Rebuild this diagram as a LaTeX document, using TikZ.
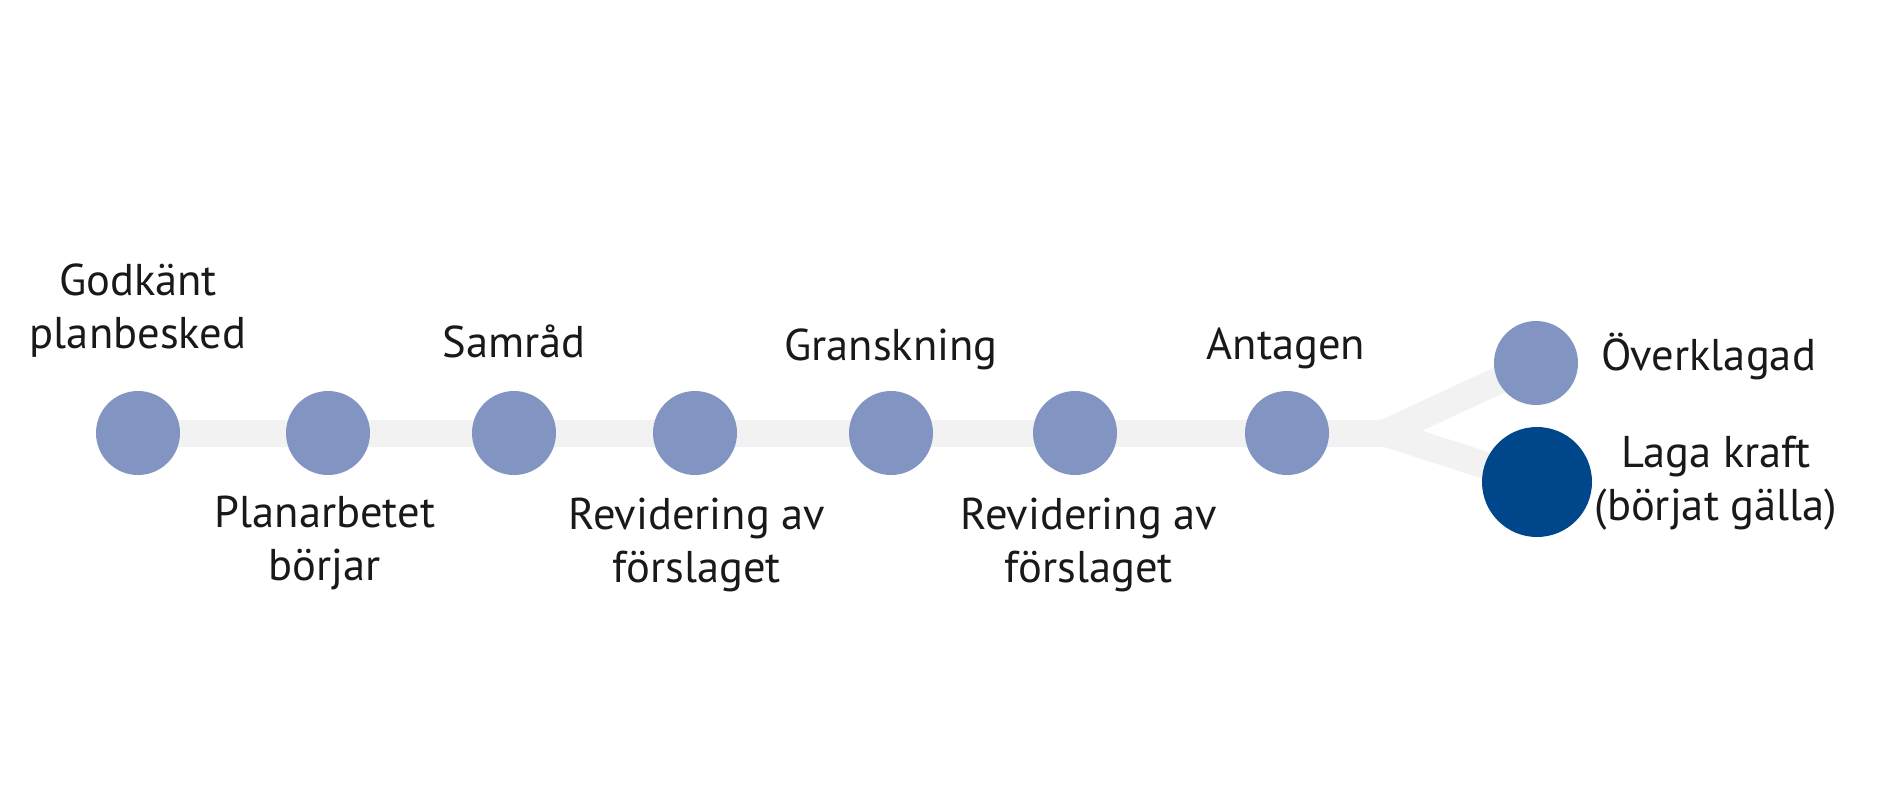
\documentclass[tikz,border=0pt]{standalone}
\usepackage{fontspec}
\setmainfont{PT Sans}
\definecolor{dotblue}{RGB}{130,149,194}
\definecolor{darkblue}{RGB}{0,70,139}
\definecolor{track}{RGB}{242,242,242}
\begin{document}
\begin{tikzpicture}[x=1pt,y=-1pt,
  dot/.style={circle,fill=dotblue,minimum size=84pt,inner sep=0pt},
  bigdot/.style={circle,fill=darkblue,minimum size=110pt,inner sep=0pt},
  lbl/.style={font=\fontsize{44.5}{53}\selectfont,text=black!90,inner sep=0pt,align=center},
  trackline/.style={draw=track,line width=27pt}]
\useasboundingbox (0,0) rectangle (1880,806);
\fill[white] (0,0) rectangle (1880,806);
% positions
\coordinate (c1) at (138,433);
\coordinate (c2) at (328,433);
\coordinate (c3) at (514,433);
\coordinate (c4) at (695,433);
\coordinate (c5) at (891,433);
\coordinate (c6) at (1075,433);
\coordinate (c7) at (1287,433);
\coordinate (j) at (1385,433);
\coordinate (c8) at (1536,363);
\coordinate (c9) at (1537,482);
% track
\draw[trackline] (c1) -- (j);
\draw[trackline] (j) -- (c8);
\draw[trackline] (j) -- (c9);
% dots
\node[dot] (n1) at (c1) {};
\node[dot] (n2) at (c2) {};
\node[dot] (n3) at (c3) {};
\node[dot] (n4) at (c4) {};
\node[dot] (n5) at (c5) {};
\node[dot] (n6) at (c6) {};
\node[dot] (n7) at (c7) {};
\node[dot] (n8) at (c8) {};
\node[bigdot] (n9) at (c9) {};
% labels (base = baseline of last line)
\node[lbl,anchor=base] (t1) at (138,348) {Godkänt\\planbesked};
\node[lbl,anchor=base] (t2) at (325,580) {Planarbetet\\börjar};
\node[lbl,anchor=base] (t3) at (514,357) {Samråd};
\node[lbl,anchor=base] (t4) at (697,582) {Revidering av\\förslaget};
\node[lbl,anchor=base] (t5) at (891,360) {Granskning};
\node[lbl,anchor=base] (t6) at (1089,582) {Revidering av\\förslaget};
\node[lbl,anchor=base] (t7) at (1286,359) {Antagen};
\node[lbl,anchor=base west] (t8) at (1601,370) {Överklagad};
\node[lbl,anchor=base] (t9) at (1716,520) {Laga kraft\\(börjat gälla)};
\end{tikzpicture}
\end{document}
